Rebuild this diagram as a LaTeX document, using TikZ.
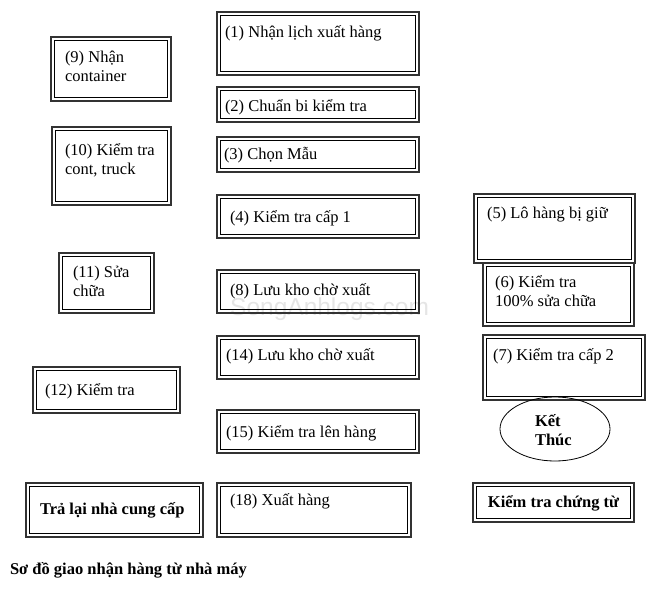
\documentclass[tikz,border=0pt]{standalone}
\usepackage{fontspec}
\setmainfont{Liberation Serif}
\newfontfamily\wmfont{Liberation Sans}
\usetikzlibrary{shapes.geometric}
\newcommand\mkbox[5]{%
  \node[boxouter, minimum width={#4-#2}, minimum height={#5-#3}, anchor=north west] (#1) at (#2,#3) {};
  \draw[boxinner] ([shift={(3.2,3.2)}]#1.north west) rectangle ([shift={(-3.2,-3.2)}]#1.south east);
}
\tikzset{
  boxouter/.style={draw=black!80, line width=1.6pt, inner sep=0pt, outer sep=0pt},
  boxinner/.style={draw=black, line width=0.7pt},
  lbl/.style={inner sep=0pt, outer sep=0pt, align=left, font=\fontsize{16.5}{19}\selectfont},
  blbl/.style={lbl, font=\fontsize{16.5}{19}\selectfont\bfseries},
  endshape/.style={ellipse, draw=black, line width=0.8pt, minimum width=110pt, minimum height=64pt, inner sep=0pt},
}
\begin{document}
\begin{tikzpicture}[x=1pt,y=-1pt]
\fill[white] (0,0) rectangle (653,591);
\useasboundingbox (0,0) rectangle (653,591);

% watermark
\node[inner sep=0pt, anchor=base west, text=black!10, font=\wmfont\fontsize{24.5}{28}\selectfont] (wm) at (230,315) {SongAnhlogs.com};

% centre column
\mkbox{n1}{217}{12}{419}{75}
\node[lbl, anchor=base west] (t1) at ([shift={(8,26)}]n1.north west) {(1) Nhận lịch xuất hàng};
\mkbox{n2}{217}{87}{419}{122}
\node[lbl, anchor=base west] (t2) at ([shift={(8,25)}]n2.north west) {(2) Chuẩn bi kiểm tra};
\mkbox{n3}{217}{137}{419}{172}
\node[lbl, anchor=base west] (t3) at ([shift={(7,22)}]n3.north west) {(3) Chọn Mẫu};
\mkbox{n4}{217}{195}{419}{238}
\node[lbl, anchor=base west] (t4) at ([shift={(13,27)}]n4.north west) {(4) Kiểm tra cấp 1};
\mkbox{n8}{217}{270}{419}{313}
\node[lbl, anchor=base west] (t8) at ([shift={(13,25)}]n8.north west) {(8) Lưu kho chờ xuất};
\mkbox{n14}{217}{336}{419}{379}
\node[lbl, anchor=base west] (t14) at ([shift={(9,24)}]n14.north west) {(14) Lưu kho chờ xuất};
\mkbox{n15}{217}{410}{419}{453}
\node[lbl, anchor=base west] (t15) at ([shift={(9,27)}]n15.north west) {(15) Kiểm tra lên hàng};
\mkbox{n18}{217}{483}{411}{537}
\node[lbl, anchor=base west] (t18) at ([shift={(13,22)}]n18.north west) {(18) Xuất hàng};

% left column (two-line labels: base anchor = last line)
\mkbox{n9}{51}{37}{171}{101}
\node[lbl, anchor=base west] (t9) at ([shift={(14,45)}]n9.north west) {(9) Nhận\\container};
\mkbox{n10}{52}{127}{171}{205}
\node[lbl, anchor=base west] (t10) at ([shift={(13,47)}]n10.north west) {(10) Kiểm tra\\cont, truck};
\mkbox{n11}{59}{253}{154}{313}
\node[lbl, anchor=base west] (t11) at ([shift={(14,43)}]n11.north west) {(11) Sửa\\chữa};
\mkbox{n12}{33}{367}{180}{413}
\node[lbl, anchor=base west] (t12) at ([shift={(12,28)}]n12.north west) {(12) Kiểm tra};
\mkbox{ntra}{26}{483}{203}{537}
\node[blbl, anchor=base west] (ttra) at ([shift={(14,31)}]ntra.north west) {Trả lại nhà cung cấp};

% right column
\mkbox{n5}{474}{194}{635}{263}
\node[lbl, anchor=base west] (t5) at ([shift={(13,24)}]n5.north west) {(5) Lô hàng bị giữ};
\mkbox{n6}{483}{263}{634}{326}
\node[lbl, anchor=base west] (t6) at ([shift={(12,43)}]n6.north west) {(6) Kiểm tra\\100\% sửa chữa};
\mkbox{n7}{483}{335}{645}{400}
\node[lbl, anchor=base west] (t7) at ([shift={(10,25)}]n7.north west) {(7) Kiểm tra cấp 2};
\node[endshape] (kt) at (555,429) {};
\node[blbl, anchor=base west] (tkt) at (535,445) {Kết\\Thúc};
\mkbox{nkt}{473}{483}{634}{522}
\node[blbl, anchor=base] (tnkt) at ([shift={(0,24)}]nkt.north) {Kiểm tra chứng từ};

% caption
\node[blbl, anchor=base west] (cap) at (10,574) {Sơ đồ giao nhận hàng từ nhà máy};
\end{tikzpicture}
\end{document}
